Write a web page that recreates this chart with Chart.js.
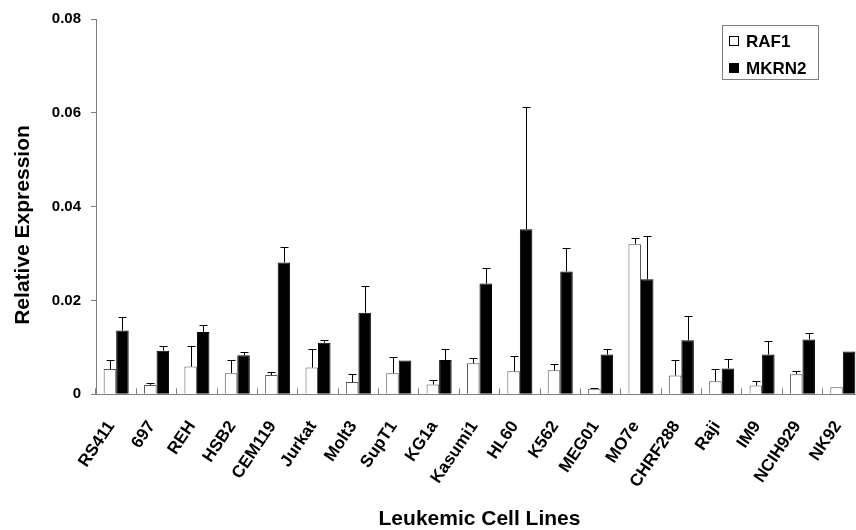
<!DOCTYPE html>
<html>
<head>
<meta charset="utf-8">
<script src="https://cdn.jsdelivr.net/npm/chart.js@4/dist/chart.umd.min.js"></script>
<style>
  html, body { margin: 0; padding: 0; background: #fff; overflow: hidden; }
  #wrap { width: 863px; height: 530px; }
</style>
</head>
<body>
<div id="wrap"><canvas id="relChart" width="863" height="530"></canvas></div>
<script>
// dữ liệu
const cellLines = ['RS411', '697', 'REH', 'HSB2', 'CEM119', 'Jurkat', 'Molt3', 'SupT1', 'KG1a', 'Kasumi1',
	'HL60', 'K562', 'MEG01', 'MO7e', 'CHRF288', 'Raji', 'IM9', 'NCIH929', 'NK92'];
const raf1 = [0.0054, 0.0020, 0.0059, 0.0045, 0.0041, 0.0057, 0.0026, 0.0045, 0.0021, 0.0066,
	0.0049, 0.0051, 0.0012, 0.0320, 0.0040, 0.0028, 0.0019, 0.0043, 0.0015];
const raf1Err = [0.0020, 0.0004, 0.0043, 0.0029, 0.0006, 0.0040, 0.0017, 0.0034, 0.0009, 0.0011,
	0.0032, 0.0013, 0.0001, 0.0013, 0.0033, 0.0025, 0.0009, 0.0006, 0];
const mkrn2 = [0.0136, 0.0093, 0.0133, 0.0083, 0.0281, 0.0110, 0.0174, 0.0072, 0.0073, 0.0236,
	0.0352, 0.0262, 0.0085, 0.0245, 0.0115, 0.0055, 0.0085, 0.0117, 0.0091];
const mkrn2Err = [0.0029, 0.0010, 0.0014, 0.0008, 0.0033, 0.0006, 0.0057, 0, 0.0023, 0.0033,
	0.0261, 0.0049, 0.0012, 0.0093, 0.0052, 0.0021, 0.0028, 0.0014, 0];
const yTicks = [0, 0.02, 0.04, 0.06, 0.08];

const FONT = '"Liberation Sans", Arial, sans-serif';
const GREY = '#808080';

// Vẽ thanh sai số (chỉ phía trên)
const errorBars = {
	id: 'errorBars',
	afterDatasetsDraw(chart) {
		const ctx = chart.ctx;
		const yScale = chart.scales.y;
		ctx.save();
		ctx.strokeStyle = '#000';
		ctx.lineWidth = 1;
		chart.data.datasets.forEach((ds, i) => {
			const meta = chart.getDatasetMeta(i);
			meta.data.forEach((bar, j) => {
				const err = ds.errors[j];
				if (!err) return;
				const x = Math.round(bar.x) + 0.5;
				const yTop = Math.round(yScale.getPixelForValue(ds.data[j] + err)) + 0.5;
				ctx.beginPath();
				ctx.moveTo(x, bar.y);
				ctx.lineTo(x, yTop);
				ctx.moveTo(x - 4, yTop);
				ctx.lineTo(x + 4, yTop);
				ctx.stroke();
			});
		});
		ctx.restore();
	}
};

// Chú thích có khung + tiêu đề trục y
const extras = {
	id: 'extras',
	afterDraw(chart) {
		const ctx = chart.ctx;
		const area = chart.chartArea;
		ctx.save();
		// khung chú thích
		const bx = area.right - 141, by = 25, bw = 96, bh = 54;
		ctx.strokeStyle = GREY;
		ctx.lineWidth = 1;
		ctx.strokeRect(bx + 0.5, by + 0.5, bw, bh);
		ctx.font = 'bold 17px ' + FONT;
		ctx.textBaseline = 'middle';
		ctx.textAlign = 'left';
		chart.data.datasets.forEach((ds, i) => {
			const cy = by + 16 + i * 27;
			ctx.fillStyle = ds.backgroundColor;
			ctx.fillRect(bx + 7, cy - 5, 10, 10);
			ctx.strokeStyle = '#000';
			ctx.strokeRect(bx + 7.5, cy - 4.5, 9, 9);
			ctx.fillStyle = '#000';
			ctx.fillText(ds.label, bx + 24, cy + 1);
		});
		// tiêu đề trục y
		ctx.translate(23, 225);
		ctx.rotate(-Math.PI / 2);
		ctx.textAlign = 'center';
		ctx.font = 'bold 21px ' + FONT;
		ctx.fillText('Relative Expression', 0, 0);
		ctx.restore();
	}
};

new Chart(document.getElementById('relChart').getContext('2d'), {
	type: 'bar',
	data: {
		labels: cellLines,
		datasets: [{
			label: 'RAF1',
			data: raf1,
			errors: raf1Err,
			backgroundColor: '#ffffff',
			borderColor: '#555555',
			borderWidth: 1
		}, {
			label: 'MKRN2',
			data: mkrn2,
			errors: mkrn2Err,
			backgroundColor: '#000000',
			borderColor: '#000000',
			borderWidth: 1
		}]
	},
	options: {
		responsive: false,
		animation: false,
		devicePixelRatio: 1,
		layout: { padding: { top: 17, right: 0, bottom: 0, left: 0 } },
		categoryPercentage: 0.62,
		barPercentage: 1.0,
		plugins: {
			legend: { display: false },
			tooltip: { enabled: false }
		},
		scales: {
			x: {
				grid: {
					offset: true,
					drawOnChartArea: false,
					drawTicks: true,
					tickLength: -6,
					color: GREY
				},
				border: { display: true, color: GREY },
				ticks: {
					autoSkip: false,
					minRotation: 56,
					maxRotation: 56,
					padding: 29,
					labelOffset: -5,
					color: '#000',
					font: { family: FONT, size: 17, weight: 'bold' }
				},
				title: {
					display: true,
					text: 'Leukemic Cell Lines',
					color: '#000',
					font: { family: FONT, size: 21, weight: 'bold', lineHeight: 1 },
					padding: { top: 0, bottom: 0 }
				},
				afterFit(s) {
					s.height = 135.7;
					s.paddingLeft = 0;
					s.paddingRight = 0;
				}
			},
			y: {
				min: 0,
				max: 0.08,
				afterBuildTicks(s) {
					s.ticks = yTicks.map(v => ({ value: v }));
				},
				grid: {
					drawOnChartArea: false,
					drawTicks: true,
					tickLength: 5,
					color: GREY
				},
				border: { display: true, color: GREY },
				ticks: {
					padding: 10,
					color: '#000',
					font: { family: FONT, size: 15, weight: 'bold' },
					callback: v => (v === 0 ? '0' : v.toFixed(2))
				},
				afterFit(s) {
					s.width = 96;
				}
			}
		}
	},
	plugins: [errorBars, extras]
});
</script>
</body>
</html>
